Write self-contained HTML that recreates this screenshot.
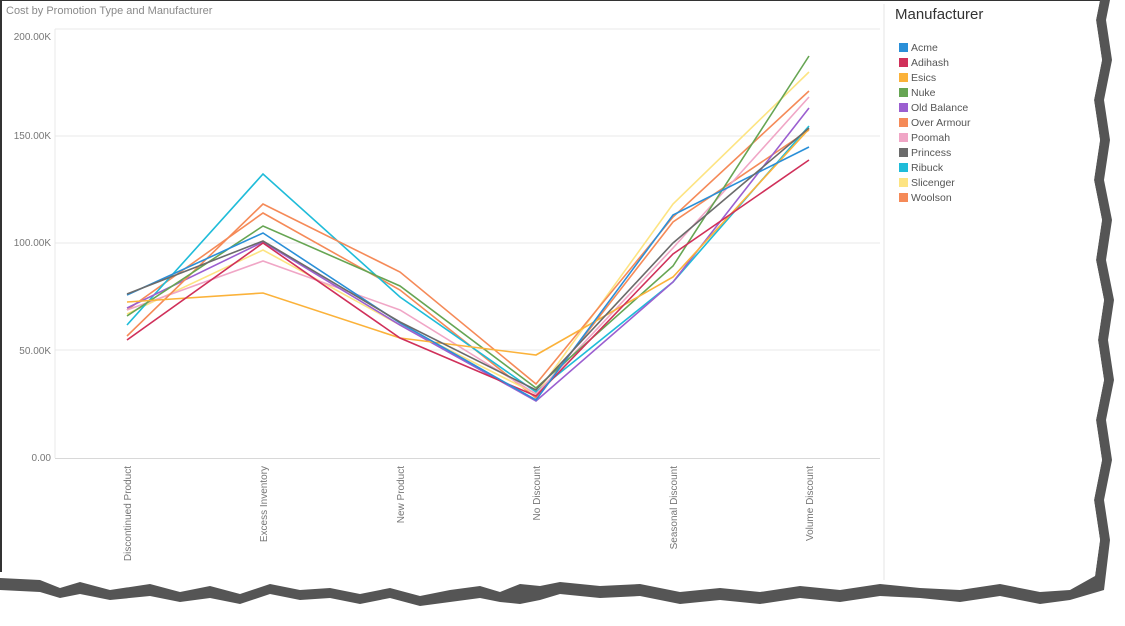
<!DOCTYPE html>
<html><head><meta charset="utf-8"><style>
body{margin:0;background:#fff;}
svg{display:block;font-family:"Liberation Sans",sans-serif;}
</style></head><body>
<svg width="1125" height="626" viewBox="0 0 1125 626" xmlns="http://www.w3.org/2000/svg">
<rect width="1125" height="626" fill="#fff"/>
<!-- torn edge shadow -->
<path d="M0,578 L40,580 L60,588 L80,582 L110,590 L150,584 L180,592 L210,586 L240,594 L270,584 L300,590 L330,588 L360,594 L390,588 L420,596 L450,590 L480,586 L500,592 L520,584 L540,586 L560,582 L600,586 L640,584 L680,592 L720,588 L760,592 L800,586 L840,590 L880,584 L920,588 L960,590 L1000,584 L1040,592 L1070,590 L1095,576 L1100,540 L1094,500 L1102,460 L1096,420 L1104,380 L1098,340 L1104,300 L1096,260 L1102,220 L1094,180 L1100,140 L1094,100 L1102,60 L1096,20 L1100,0 L1110,0 L1106,20 L1112,60 L1104,100 L1110,140 L1104,180 L1112,220 L1106,260 L1114,300 L1108,340 L1114,380 L1106,420 L1112,460 L1104,500 L1110,540 L1104,590 L1070,600 L1040,604 L1000,596 L960,602 L920,598 L880,596 L840,602 L800,598 L760,604 L720,600 L680,604 L640,596 L600,598 L560,594 L540,600 L520,604 L500,602 L480,598 L450,602 L420,606 L390,598 L360,604 L330,598 L300,600 L270,594 L240,604 L210,598 L180,602 L150,596 L110,600 L80,594 L60,598 L40,592 L0,590 Z" fill="#555"/>
<path d="M0,0 L1100,0 L1096,20 L1102,60 L1094,100 L1100,140 L1094,180 L1102,220 L1096,260 L1104,300 L1098,340 L1104,380 L1096,420 L1102,460 L1094,500 L1100,540 L1095,576 L1070,582 L1040,586 L1000,578 L960,584 L920,580 L880,578 L840,584 L800,580 L760,586 L720,582 L680,586 L640,578 L600,580 L560,576 L540,580 L520,578 L500,586 L480,580 L450,584 L420,590 L390,582 L360,588 L330,582 L300,584 L270,578 L240,588 L210,580 L180,586 L150,578 L110,584 L80,576 L60,582 L40,574 L0,572 Z" fill="#fff"/>
<path d="M0,0 L1100,0" stroke="#333" stroke-width="2"/>
<path d="M1,0 L1,572" stroke="#333" stroke-width="2"/>
<line x1="884" y1="4" x2="884" y2="580" stroke="#e6e6e6"/>
<text x="6" y="14" font-size="11" fill="#8a8a8a">Cost by Promotion Type and Manufacturer</text>
<g stroke="#e8e8e8" stroke-width="1">
<line x1="55" y1="29" x2="880" y2="29"/><line x1="55" y1="136" x2="880" y2="136"/>
<line x1="55" y1="243" x2="880" y2="243"/><line x1="55" y1="350" x2="880" y2="350"/>
<line x1="55" y1="29" x2="55" y2="458"/>
</g>
<line x1="55" y1="458.5" x2="880" y2="458.5" stroke="#d8d8d8"/>
<g font-size="10" fill="#777" text-anchor="end">
<text x="51" y="40">200.00K</text><text x="51" y="139">150.00K</text>
<text x="51" y="246">100.00K</text><text x="51" y="354">50.00K</text><text x="51" y="461">0.00</text>
</g>
<g font-size="10" fill="#777" text-anchor="end">
<text transform="translate(131,466) rotate(-90)">Discontinued Product</text>
<text transform="translate(267,466) rotate(-90)">Excess Inventory</text>
<text transform="translate(404,466) rotate(-90)">New Product</text>
<text transform="translate(540,466) rotate(-90)">No Discount</text>
<text transform="translate(677,466) rotate(-90)">Seasonal Discount</text>
<text transform="translate(813,466) rotate(-90)">Volume Discount</text>
</g>
<g fill="none" stroke-width="1.6">
<polyline stroke="#f58a58" points="127,310 263,213 400,290 536,398 673,222 809,130"/>
<polyline stroke="#fde482" points="127,314 263,250 400,325 536,394 673,204 809,72"/>
<polyline stroke="#1fbcd9" points="127,325 263,174 400,297 536,392 673,282 809,126"/>
<polyline stroke="#f0a6c6" points="127,310 263,261 400,310 536,394 673,248 809,97"/>
<polyline stroke="#9b5fd0" points="127,308 263,242 400,325 536,401 673,282 809,108"/>
<polyline stroke="#f58a58" points="127,336 263,204 400,272 536,384 673,217 809,91"/>
<polyline stroke="#66a553" points="127,316 263,226 400,286 536,388 673,266 809,56"/>
<polyline stroke="#fbb23a" points="127,302 263,293 400,338 536,355 673,277 809,129"/>
<polyline stroke="#d0305a" points="127,340 263,243 400,338 536,396 673,254 809,160"/>
<polyline stroke="#2a8fd8" points="127,295 263,233 400,323 536,400 673,215 809,147"/>
<polyline stroke="#6b6b6b" points="127,294 263,241 400,322 536,390 673,243 809,128"/>
</g>
<text x="895" y="19" font-size="15" fill="#333">Manufacturer</text>
<g font-size="10.5" fill="#555">
<rect x="899" y="43" width="9" height="9" fill="#2a8fd8"/><text x="911" y="51">Acme</text>
<rect x="899" y="58" width="9" height="9" fill="#d0305a"/><text x="911" y="66">Adihash</text>
<rect x="899" y="73" width="9" height="9" fill="#fbb23a"/><text x="911" y="81">Esics</text>
<rect x="899" y="88" width="9" height="9" fill="#66a553"/><text x="911" y="96">Nuke</text>
<rect x="899" y="103" width="9" height="9" fill="#9b5fd0"/><text x="911" y="111">Old Balance</text>
<rect x="899" y="118" width="9" height="9" fill="#f58a58"/><text x="911" y="126">Over Armour</text>
<rect x="899" y="133" width="9" height="9" fill="#f0a6c6"/><text x="911" y="141">Poomah</text>
<rect x="899" y="148" width="9" height="9" fill="#6b6b6b"/><text x="911" y="156">Princess</text>
<rect x="899" y="163" width="9" height="9" fill="#1fbcd9"/><text x="911" y="171">Ribuck</text>
<rect x="899" y="178" width="9" height="9" fill="#fde482"/><text x="911" y="186">Slicenger</text>
<rect x="899" y="193" width="9" height="9" fill="#f58a58"/><text x="911" y="201">Woolson</text>
</g>
</svg>
</body></html>
